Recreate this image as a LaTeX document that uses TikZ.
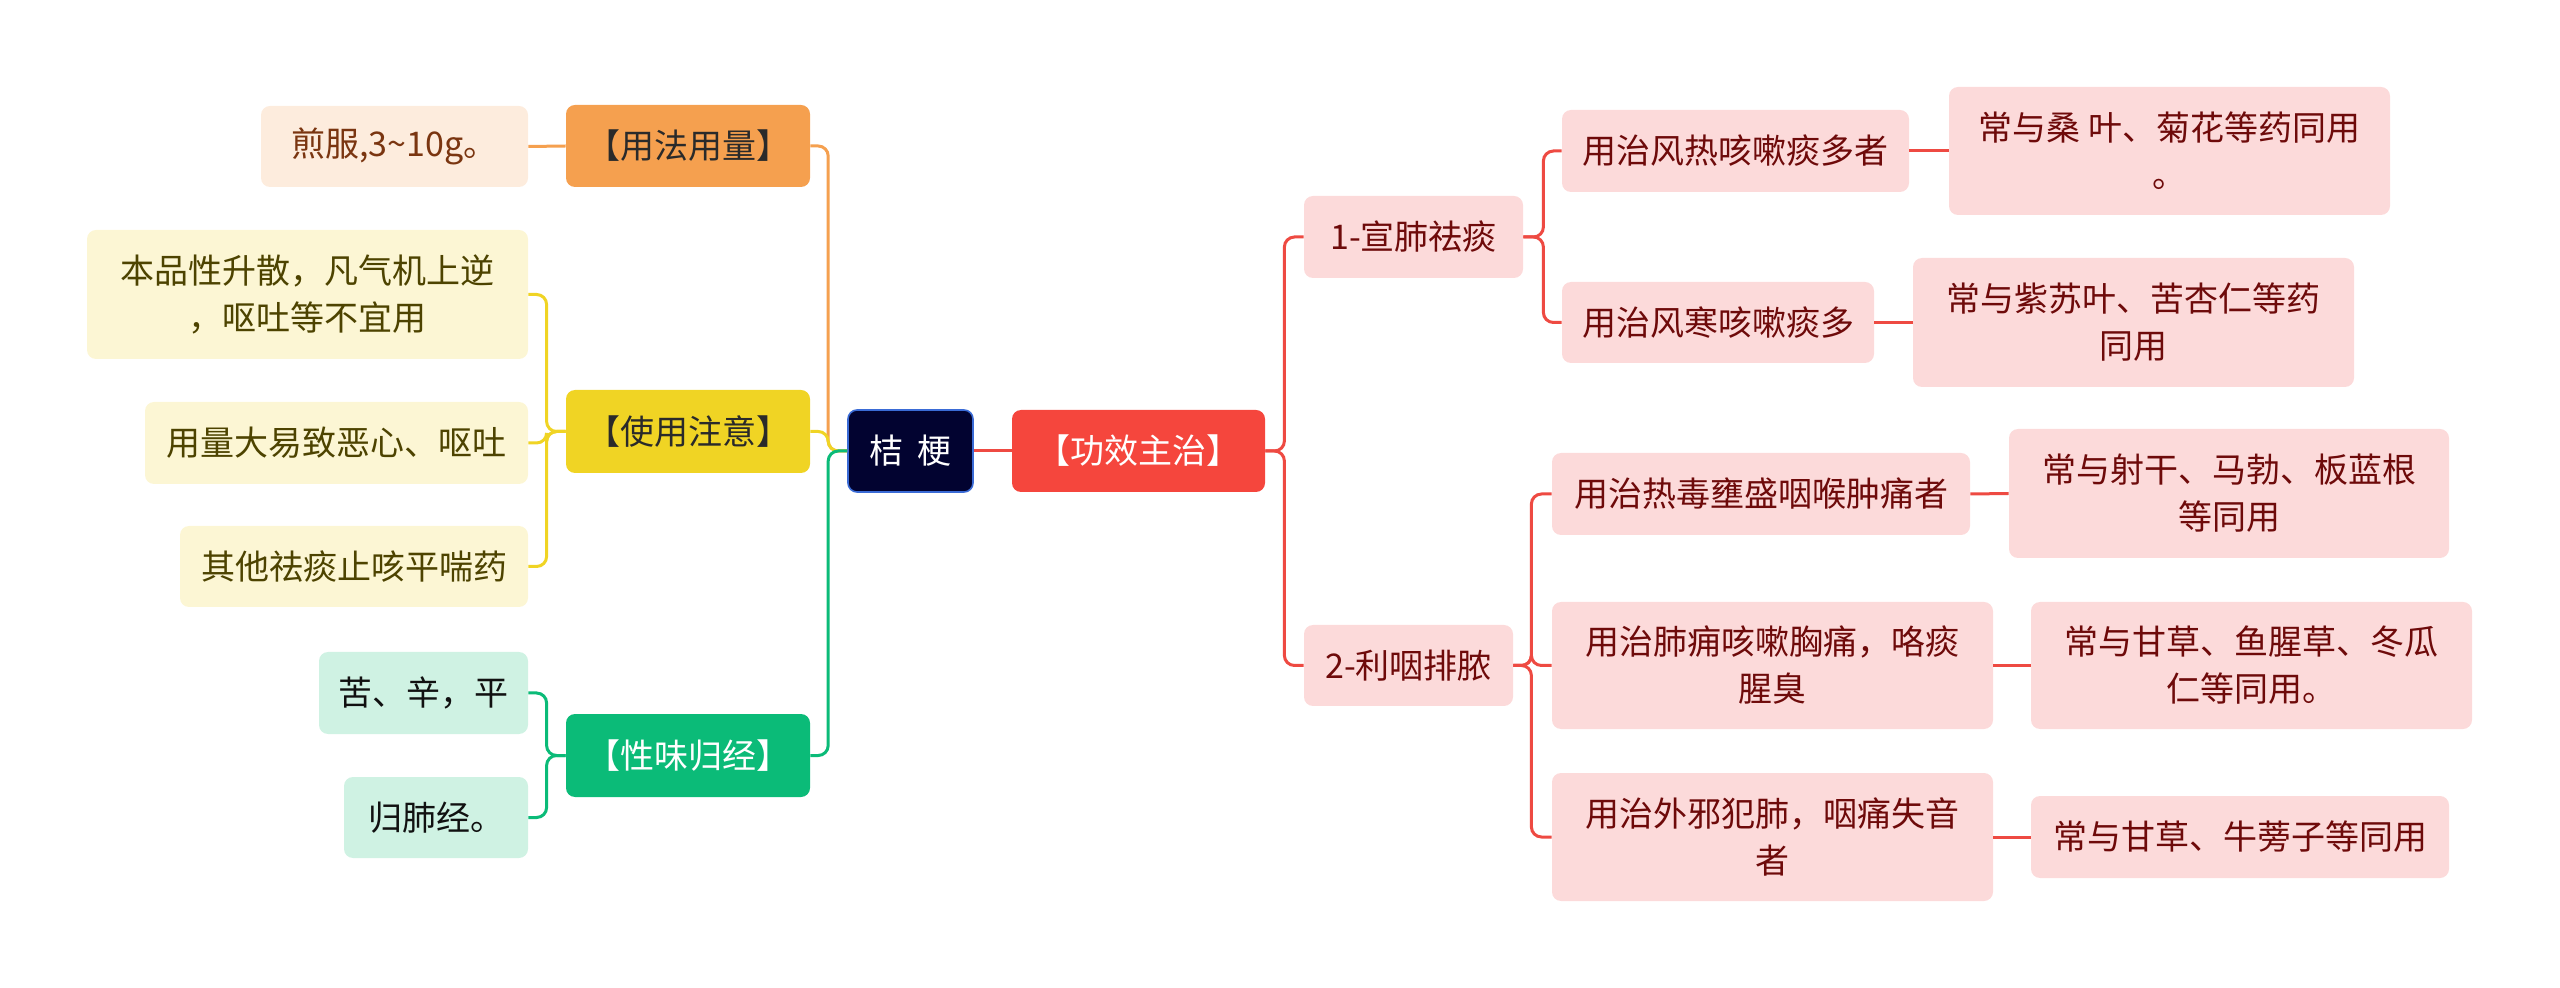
\documentclass[tikz,border=0pt]{standalone}
\usepackage{fontspec}
\setmainfont{Noto Sans CJK SC}
\definecolor{cOr}{HTML}{F5A04F}
\definecolor{cYe}{HTML}{F0D424}
\definecolor{cGr}{HTML}{0BBB78}
\definecolor{cRe}{HTML}{F5463D}
\definecolor{cReL}{HTML}{EE4A42}
\definecolor{fOr}{HTML}{FDECDD}
\definecolor{fYe}{HTML}{FCF6D4}
\definecolor{fGr}{HTML}{CFF2E3}
\definecolor{fRe}{HTML}{FCDADA}
\definecolor{tOr}{HTML}{7A3510}
\definecolor{tYe}{HTML}{4D4300}
\definecolor{tGr}{HTML}{111111}
\definecolor{tRe}{HTML}{6E0A0A}
\definecolor{cNavy}{HTML}{020330}
\definecolor{cBlue}{HTML}{3A6BD6}
\definecolor{tDark}{HTML}{2A2A2A}
\begin{document}
\begin{tikzpicture}[x=0.5pt,y=-0.5pt,
  box/.style={rounded corners=4.5pt, inner sep=0pt, align=center,
    font=\fontsize{17pt}{23.5pt}\selectfont},
  sz/.style 2 args={minimum width=#1*0.5pt, minimum height=#2*0.5pt},
  rootbox/.style={box, fill=cNavy, draw=cBlue, line width=0.8pt, text=white},
  hOr/.style={box, fill=cOr, text=tDark},
  hYe/.style={box, fill=cYe, text=tDark},
  hGr/.style={box, fill=cGr, text=white},
  hRe/.style={box, fill=cRe, text=white},
  lOr/.style={box, fill=fOr, text=tOr},
  lYe/.style={box, fill=fYe, text=tYe},
  lGr/.style={box, fill=fGr, text=tGr},
  lRe/.style={box, fill=fRe, text=tRe},
  con/.style={line width=1.5pt, rounded corners=5pt},
]
\useasboundingbox (0,0) rectangle (2560,988);

% centre
\node[rootbox, sz={125}{82}] (root) at (910.5,451) {桔\hspace{0.4em}梗};

% left headers
\node[hOr, sz={244}{82}] (yfyl) at (688,146) {【用法用量】};
\node[hYe, sz={244}{83}] (syzy) at (688,431.5) {【使用注意】};
\node[hGr, sz={244}{83}] (xwgj) at (688,755.5) {【性味归经】};

% left leaves
\node[lOr, sz={267}{81}] (jian) at (394.5,146.5) {煎服,3\textasciitilde10g。};
\node[lYe, sz={441}{129}] (bp) at (307.5,294.5) {本品性升散，凡气机上逆\\，呕吐等不宜用};
\node[lYe, sz={383}{82}] (ylda) at (336.5,443) {用量大易致恶心、呕吐};
\node[lYe, sz={348}{81}] (qt) at (354,566.5) {其他祛痰止咳平喘药};
\node[lGr, sz={209}{82}] (kxp) at (423.5,693) {苦、辛，平};
\node[lGr, sz={184}{81}] (gfj) at (436,817.5) {归肺经。};

% right
\node[hRe, sz={253}{82}] (gxzz) at (1138.5,451) {【功效主治】};
\node[lRe, sz={219}{82}] (x1) at (1413.5,237) {1-宣肺祛痰};
\node[lRe, sz={209}{81}] (x2) at (1408.5,665.5) {2-利咽排脓};

\node[lRe, sz={347}{82}] (a1) at (1735.5,151) {用治风热咳嗽痰多者};
\node[lRe, sz={441}{128}] (a1l) at (2169.5,151) {常与桑 叶、菊花等药同用\\。};
\node[lRe, sz={312}{81}] (a2) at (1718,322.5) {用治风寒咳嗽痰多};
\node[lRe, sz={441}{129}] (a2l) at (2133.5,322.5) {常与紫苏叶、苦杏仁等药\\同用};

\node[lRe, sz={418}{82}] (b1) at (1761,494) {用治热毒壅盛咽喉肿痛者};
\node[lRe, sz={440}{129}] (b1l) at (2229,493.5) {常与射干、马勃、板蓝根\\等同用};
\node[lRe, sz={441}{127}] (b2) at (1772.5,665.5) {用治肺痈咳嗽胸痛，咯痰\\腥臭};
\node[lRe, sz={441}{127}] (b2l) at (2251.5,665.5) {常与甘草、鱼腥草、冬瓜\\仁等同用。};
\node[lRe, sz={441}{128}] (b3) at (1772.5,837) {用治外邪犯肺，咽痛失音\\者};
\node[lRe, sz={418}{82}] (b3l) at (2240,837) {常与甘草、牛蒡子等同用};

% connectors: root to left headers
\draw[con, cOr] (root.west) -- ([xshift=-9.5pt]root.west) |- (yfyl.east);
\draw[con, cYe] (root.west) -- ([xshift=-9.5pt]root.west) |- (syzy.east);
\draw[con, cGr] (root.west) -- ([xshift=-9.5pt]root.west) |- (xwgj.east);

\draw[con, cOr] (yfyl.west) -- (jian.east);
\draw[con, cYe] (syzy.west) -- ([xshift=-9.5pt]syzy.west) |- (bp.east);
\draw[con, cYe] (syzy.west) -- ([xshift=-9.5pt]syzy.west) |- (ylda.east);
\draw[con, cYe] (syzy.west) -- ([xshift=-9.5pt]syzy.west) |- (qt.east);
\draw[con, cGr] (xwgj.west) -- ([xshift=-9.5pt]xwgj.west) |- (kxp.east);
\draw[con, cGr] (xwgj.west) -- ([xshift=-9.5pt]xwgj.west) |- (gfj.east);

% right connectors
\draw[con, cReL] (root.east) -- (gxzz.west);
\draw[con, cReL] (gxzz.east) -- ([xshift=9.5pt]gxzz.east) |- (x1.west);
\draw[con, cReL] (gxzz.east) -- ([xshift=9.5pt]gxzz.east) |- (x2.west);
\draw[con, cReL] (x1.east) -- ([xshift=10pt]x1.east) |- (a1.west);
\draw[con, cReL] (x1.east) -- ([xshift=10pt]x1.east) |- (a2.west);
\draw[con, cReL] (x2.east) -- ([xshift=9pt]x2.east) |- (b1.west);
\draw[con, cReL] (x2.east) -- ([xshift=9pt]x2.east) |- (b2.west);
\draw[con, cReL] (x2.east) -- ([xshift=9pt]x2.east) |- (b3.west);
\draw[con, cReL] (a1.east) -- (a1l.west);
\draw[con, cReL] (a2.east) -- (a2l.west);
\draw[con, cReL] (b1.east) -- (b1l.west);
\draw[con, cReL] (b2.east) -- (b2l.west);
\draw[con, cReL] (b3.east) -- (b3l.west);
\end{tikzpicture}
\end{document}
